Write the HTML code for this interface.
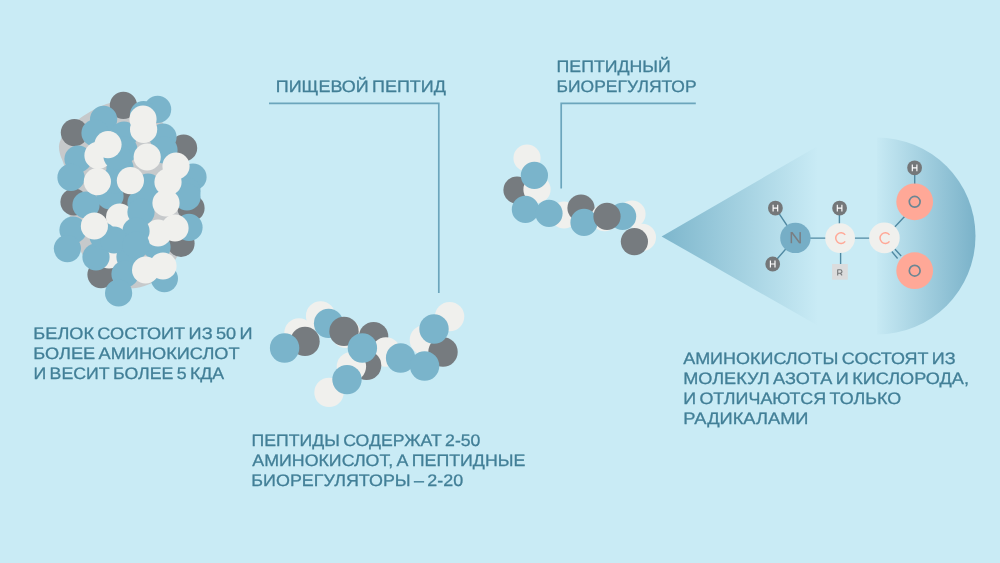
<!DOCTYPE html>
<html lang="ru"><head><meta charset="utf-8"><title>Peptides</title>
<style>
html,body{margin:0;padding:0;background:#C9EBF5;}
body{width:1000px;height:563px;overflow:hidden;font-family:"Liberation Sans",sans-serif;}
svg{display:block}
text{font-family:"Liberation Sans",sans-serif;}
.t{fill:#427F97;font-size:16.6px;stroke:#427F97;stroke-width:0.3px;word-spacing:-1.5px;text-rendering:geometricPrecision;}
</style></head><body>
<svg width="1000" height="563" viewBox="0 0 1000 563">
<defs>
<linearGradient id="cone" x1="661" y1="0" x2="818" y2="0" gradientUnits="userSpaceOnUse">
<stop offset="0" stop-color="#7DB6CC" stop-opacity="1"/>
<stop offset="1" stop-color="#7DB6CC" stop-opacity="0"/>
</linearGradient>
<linearGradient id="semi" x1="877" y1="0" x2="976" y2="0" gradientUnits="userSpaceOnUse">
<stop offset="0" stop-color="#7AB2C9" stop-opacity="0.03"/>
<stop offset="1" stop-color="#7AB2C9" stop-opacity="1"/>
</linearGradient>
<filter id="noop" x="0" y="0" width="1000" height="563" filterUnits="userSpaceOnUse"><feOffset dx="0" dy="0"/></filter>
</defs>
<rect width="1000" height="563" fill="#C9EBF5"/>

<g id="protein">
<path d="M122.0 101.0 C117.7 100.5 114.5 101.7 110.0 103.0 C105.5 104.3 100.2 106.3 95.0 109.0 C89.8 111.7 83.8 115.5 79.0 119.0 C74.2 122.5 69.0 126.7 66.0 130.0 C63.0 133.3 62.2 136.3 61.0 139.0 C59.8 141.7 59.2 143.5 59.0 146.0 C58.8 148.5 59.3 151.3 60.0 154.0 C60.7 156.7 62.0 159.0 63.0 162.0 C64.0 165.0 65.2 167.3 66.0 172.0 C66.8 176.7 67.1 184.8 67.5 190.0 C67.9 195.2 68.2 198.8 68.5 203.0 C68.8 207.2 68.9 210.5 69.5 215.0 C70.1 219.5 70.2 224.2 72.0 230.0 C73.8 235.8 77.0 244.2 80.0 250.0 C83.0 255.8 85.8 260.0 90.0 265.0 C94.2 270.0 100.0 276.3 105.0 280.0 C110.0 283.7 114.8 285.7 120.0 287.0 C125.2 288.3 130.7 288.7 136.0 288.0 C141.3 287.3 147.7 285.0 152.0 283.0 C156.3 281.0 158.7 279.2 162.0 276.0 C165.3 272.8 169.3 267.5 172.0 264.0 C174.7 260.5 176.5 258.3 178.0 255.0 C179.5 251.7 180.0 249.0 181.0 244.0 C182.0 239.0 183.5 232.3 184.0 225.0 C184.5 217.7 183.7 208.3 184.0 200.0 C184.3 191.7 186.7 183.3 186.0 175.0 C185.3 166.7 183.3 157.8 180.0 150.0 C176.7 142.2 170.7 135.0 166.0 128.0 C161.3 121.0 157.0 111.7 152.0 108.0 C147.0 104.3 141.0 107.2 136.0 106.0 C131.0 104.8 126.3 101.5 122.0 101.0Z" fill="#C6C9CB"/>
<circle cx="123.4" cy="105.4" r="13.6" fill="#767B7F"/>
<circle cx="74.4" cy="132.6" r="13.6" fill="#767B7F"/>
<circle cx="183.6" cy="148" r="13.6" fill="#767B7F"/>
<circle cx="74" cy="202" r="13.6" fill="#767B7F"/>
<circle cx="127" cy="199" r="13.6" fill="#767B7F"/>
<circle cx="104" cy="212" r="13.6" fill="#767B7F"/>
<circle cx="191" cy="208" r="13.6" fill="#767B7F"/>
<circle cx="181" cy="243.4" r="13.6" fill="#767B7F"/>
<circle cx="101" cy="274.6" r="13.6" fill="#767B7F"/>
<circle cx="157.6" cy="109.4" r="13.6" fill="#7AB4CB"/>
<circle cx="143.5" cy="114.5" r="13.6" fill="#7AB4CB"/>
<circle cx="103.6" cy="119.4" r="13.6" fill="#7AB4CB"/>
<circle cx="95" cy="133" r="13.6" fill="#7AB4CB"/>
<circle cx="124" cy="135" r="13.6" fill="#7AB4CB"/>
<circle cx="163" cy="137" r="13.6" fill="#7AB4CB"/>
<circle cx="78" cy="159" r="13.6" fill="#7AB4CB"/>
<circle cx="71" cy="177.4" r="13.6" fill="#7AB4CB"/>
<circle cx="193" cy="177" r="13.6" fill="#7AB4CB"/>
<circle cx="187" cy="191" r="13.6" fill="#7AB4CB"/>
<circle cx="120" cy="168" r="13.6" fill="#7AB4CB"/>
<circle cx="124" cy="150" r="13.6" fill="#7AB4CB"/>
<circle cx="164" cy="150" r="13.6" fill="#7AB4CB"/>
<circle cx="148" cy="187" r="13.6" fill="#7AB4CB"/>
<circle cx="141" cy="203" r="13.6" fill="#7AB4CB"/>
<circle cx="110" cy="196" r="13.6" fill="#7AB4CB"/>
<circle cx="86" cy="205" r="13.6" fill="#7AB4CB"/>
<circle cx="187" cy="197" r="13.6" fill="#7AB4CB"/>
<circle cx="115" cy="180" r="13.6" fill="#7AB4CB"/>
<circle cx="150" cy="195" r="13.6" fill="#7AB4CB"/>
<circle cx="73" cy="230" r="13.6" fill="#7AB4CB"/>
<circle cx="67.4" cy="248.6" r="13.6" fill="#7AB4CB"/>
<circle cx="189" cy="227.4" r="13.6" fill="#7AB4CB"/>
<circle cx="98" cy="155.4" r="13.6" fill="#F0F0ED"/>
<circle cx="117" cy="156" r="13.6" fill="#7AB4CB"/>
<circle cx="109" cy="255" r="13.6" fill="#F0F0ED"/>
<circle cx="119.6" cy="217" r="13.6" fill="#F0F0ED"/>
<circle cx="157" cy="247" r="13.6" fill="#7AB4CB"/>
<circle cx="158" cy="233" r="13.6" fill="#F0F0ED"/>
<circle cx="141" cy="212" r="13.6" fill="#7AB4CB"/>
<circle cx="136" cy="231" r="13.6" fill="#7AB4CB"/>
<circle cx="130" cy="257" r="13.6" fill="#7AB4CB"/>
<circle cx="125" cy="274" r="13.6" fill="#7AB4CB"/>
<circle cx="96" cy="257" r="13.6" fill="#7AB4CB"/>
<circle cx="118.6" cy="293" r="13.6" fill="#7AB4CB"/>
<circle cx="164.4" cy="278.6" r="13.6" fill="#7AB4CB"/>
<circle cx="103" cy="236" r="13.6" fill="#7AB4CB"/>
<circle cx="114" cy="240" r="13.6" fill="#7AB4CB"/>
<circle cx="136" cy="245" r="13.6" fill="#7AB4CB"/>
<circle cx="143" cy="119" r="13.6" fill="#F0F0ED"/>
<circle cx="143.6" cy="129.4" r="13.6" fill="#F0F0ED"/>
<circle cx="108" cy="144.6" r="13.6" fill="#F0F0ED"/>
<circle cx="147.2" cy="157" r="13.6" fill="#F0F0ED"/>
<circle cx="176" cy="166" r="13.6" fill="#F0F0ED"/>
<circle cx="168" cy="182" r="13.6" fill="#F0F0ED"/>
<circle cx="130.4" cy="180.6" r="13.6" fill="#F0F0ED"/>
<circle cx="97.4" cy="181.6" r="13.6" fill="#F0F0ED"/>
<circle cx="166" cy="203" r="13.6" fill="#F0F0ED"/>
<circle cx="94.4" cy="226" r="13.6" fill="#F0F0ED"/>
<circle cx="175" cy="228" r="13.6" fill="#F0F0ED"/>
<circle cx="145.6" cy="270" r="13.6" fill="#F0F0ED"/>
<circle cx="163" cy="266" r="13.6" fill="#F0F0ED"/>
</g>
<g id="foodpep">
<circle cx="320.6" cy="316" r="14.7" fill="#F0F0ED"/>
<circle cx="299" cy="333" r="14.7" fill="#F0F0ED"/>
<circle cx="305" cy="341.4" r="14.7" fill="#767B7F"/>
<circle cx="284.6" cy="348" r="14.7" fill="#7AB4CB"/>
<circle cx="328.6" cy="323.4" r="14.7" fill="#7AB4CB"/>
<circle cx="346" cy="333.4" r="14.7" fill="#F0F0ED"/>
<circle cx="344" cy="331.4" r="14.7" fill="#767B7F"/>
<circle cx="373.6" cy="336.6" r="14.7" fill="#767B7F"/>
<circle cx="386" cy="352" r="14.7" fill="#F0F0ED"/>
<circle cx="366.6" cy="365.4" r="14.7" fill="#767B7F"/>
<circle cx="351.4" cy="366.6" r="14.7" fill="#F0F0ED"/>
<circle cx="362.4" cy="348" r="14.7" fill="#7AB4CB"/>
<circle cx="329" cy="392.4" r="14.7" fill="#F0F0ED"/>
<circle cx="347" cy="379.6" r="14.7" fill="#7AB4CB"/>
<circle cx="400.6" cy="358" r="14.7" fill="#7AB4CB"/>
<circle cx="449.6" cy="316.6" r="14.7" fill="#F0F0ED"/>
<circle cx="424.4" cy="340" r="14.7" fill="#F0F0ED"/>
<circle cx="443" cy="352" r="14.7" fill="#767B7F"/>
<circle cx="424.6" cy="366" r="14.7" fill="#7AB4CB"/>
<circle cx="434" cy="329" r="14.7" fill="#7AB4CB"/>
</g>
<g id="bioreg">
<circle cx="527" cy="158" r="13.6" fill="#F0F0ED"/>
<circle cx="517" cy="190" r="13.6" fill="#767B7F"/>
<circle cx="537" cy="189.4" r="13.6" fill="#F0F0ED"/>
<circle cx="534.4" cy="175.4" r="13.6" fill="#7AB4CB"/>
<circle cx="525.4" cy="209.4" r="13.6" fill="#7AB4CB"/>
<circle cx="564" cy="215" r="13.6" fill="#F0F0ED"/>
<circle cx="549" cy="213.4" r="13.6" fill="#7AB4CB"/>
<circle cx="581" cy="208" r="13.6" fill="#767B7F"/>
<circle cx="604.6" cy="217.6" r="13.6" fill="#F0F0ED"/>
<circle cx="584" cy="222.4" r="13.6" fill="#7AB4CB"/>
<circle cx="632" cy="214" r="13.6" fill="#F0F0ED"/>
<circle cx="622.6" cy="216.4" r="13.6" fill="#7AB4CB"/>
<circle cx="607" cy="216.4" r="13.6" fill="#767B7F"/>
<circle cx="642.4" cy="237.4" r="13.6" fill="#F0F0ED"/>
<circle cx="634.4" cy="241.6" r="13.6" fill="#767B7F"/>
</g>
<path d="M269 103.3 H438.8 V293" fill="none" stroke="#6BA5BC" stroke-width="1.7"/>
<path d="M695.8 103.3 H561.2 V188.6" fill="none" stroke="#6BA5BC" stroke-width="1.7"/>
<path d="M661.6 236.4 L830 139 V332.6 Z" fill="url(#cone)"/>
<path d="M877 137.5 A98.5 98.5 0 0 1 877 334.5 Z" fill="url(#semi)"/>
<g stroke="#5089A2" stroke-width="1.4" fill="none">
<path d="M775.4 208.1 L795.4 238 L772.7 264"/>
<path d="M795.4 238.1 H884.4"/>
<path d="M839.4 208 V238 M840.6 238 V268"/>
<path d="M884.4 238 L904.6 216.4 M914.7 202 V168"/>
<path d="M891.8 251.5 L897.6 258.5 M894.8 249 L901.2 256"/>
</g>
<circle cx="795.4" cy="237.9" r="15.2" fill="#76AEC6"/>
<circle cx="840.1" cy="238.1" r="14.9" fill="#F0F0ED"/>
<circle cx="884.4" cy="237.9" r="15.3" fill="#F0F0ED"/>
<circle cx="914.7" cy="201.8" r="18.4" fill="#FFA897"/>
<circle cx="914.7" cy="270.7" r="18.4" fill="#FFA897"/>
<circle cx="775.4" cy="208.1" r="7.4" fill="#747779"/>
<path d="M773.10 204.70 V211.50 M777.70 204.70 V211.50 M773.10 208.10 H777.70" stroke="#FFFFFF" stroke-width="1.15" fill="none"/>
<circle cx="772.7" cy="264" r="7.4" fill="#747779"/>
<path d="M770.40 260.60 V267.40 M775.00 260.60 V267.40 M770.40 264.00 H775.00" stroke="#FFFFFF" stroke-width="1.15" fill="none"/>
<circle cx="839.6" cy="208.1" r="7.4" fill="#747779"/>
<path d="M837.30 204.70 V211.50 M841.90 204.70 V211.50 M837.30 208.10 H841.90" stroke="#FFFFFF" stroke-width="1.15" fill="none"/>
<circle cx="914.6" cy="167.8" r="7.4" fill="#747779"/>
<path d="M912.30 164.40 V171.20 M916.90 164.40 V171.20 M912.30 167.80 H916.90" stroke="#FFFFFF" stroke-width="1.15" fill="none"/>
<rect x="832.1" y="264" width="15.7" height="15.7" fill="#DBDCDD"/>
<path d="M837.7 275.4 V269.75 H840.2 A1.75 1.75 0 0 1 840.2 273.25 H837.7 M840.2 273.25 L842.1 275.4" stroke="#75787A" stroke-width="1.1" fill="none" stroke-linejoin="round"/>
<g fill="#7A7E82"><rect x="790.6" y="232.1" width="1.5" height="11.1"/><rect x="799.4" y="232.1" width="1.5" height="11.1"/><polygon points="790.6,232.1 792.5,232.1 800.9,243.2 799.0,243.2"/></g>
<path d="M845.20 234.85 A5.3 5.3 0 1 0 845.20 241.35" stroke="#FFA897" stroke-width="1.5" fill="none"/>
<path d="M889.50 234.85 A5.3 5.3 0 1 0 889.50 241.35" stroke="#FFA897" stroke-width="1.5" fill="none"/>
<circle cx="914.7" cy="201.8" r="5.4" stroke="#6C8693" stroke-width="1.7" fill="none"/>
<circle cx="914.7" cy="270.7" r="5.4" stroke="#6C8693" stroke-width="1.7" fill="none"/>
<g filter="url(#noop)">
<text class="t" x="33.38" y="339" textLength="219.24" lengthAdjust="spacingAndGlyphs">БЕЛОК СОСТОИТ ИЗ 50 И</text>
<text class="t" x="33.36" y="359" textLength="206.21" lengthAdjust="spacingAndGlyphs">БОЛЕЕ АМИНОКИСЛОТ</text>
<text class="t" x="33.53" y="379" textLength="190.62" lengthAdjust="spacingAndGlyphs">И ВЕСИТ БОЛЕЕ 5 КДА</text>
<text class="t" x="275.76" y="92" textLength="170.09" lengthAdjust="spacingAndGlyphs">ПИЩЕВОЙ ПЕПТИД</text>
<text class="t" x="556.57" y="72" textLength="114.19" lengthAdjust="spacingAndGlyphs">ПЕПТИДНЫЙ</text>
<text class="t" x="556.62" y="92" textLength="139.97" lengthAdjust="spacingAndGlyphs">БИОРЕГУЛЯТОР</text>
<text class="t" x="251.61" y="446" textLength="228.83" lengthAdjust="spacingAndGlyphs">ПЕПТИДЫ СОДЕРЖАТ 2-50</text>
<text class="t" x="252.33" y="466" textLength="273.06" lengthAdjust="spacingAndGlyphs">АМИНОКИСЛОТ, А ПЕПТИДНЫЕ</text>
<text class="t" x="251.39" y="486" textLength="211.76" lengthAdjust="spacingAndGlyphs">БИОРЕГУЛЯТОРЫ – 2-20</text>
<text class="t" x="683.16" y="364" textLength="272.49" lengthAdjust="spacingAndGlyphs">АМИНОКИСЛОТЫ СОСТОЯТ ИЗ</text>
<text class="t" x="683.23" y="384" textLength="285.71" lengthAdjust="spacingAndGlyphs">МОЛЕКУЛ АЗОТА И КИСЛОРОДА,</text>
<text class="t" x="683.19" y="404" textLength="217.88" lengthAdjust="spacingAndGlyphs">И ОТЛИЧАЮТСЯ ТОЛЬКО</text>
<text class="t" x="683.37" y="424" textLength="125.17" lengthAdjust="spacingAndGlyphs">РАДИКАЛАМИ</text>
</g>
</svg></body></html>
